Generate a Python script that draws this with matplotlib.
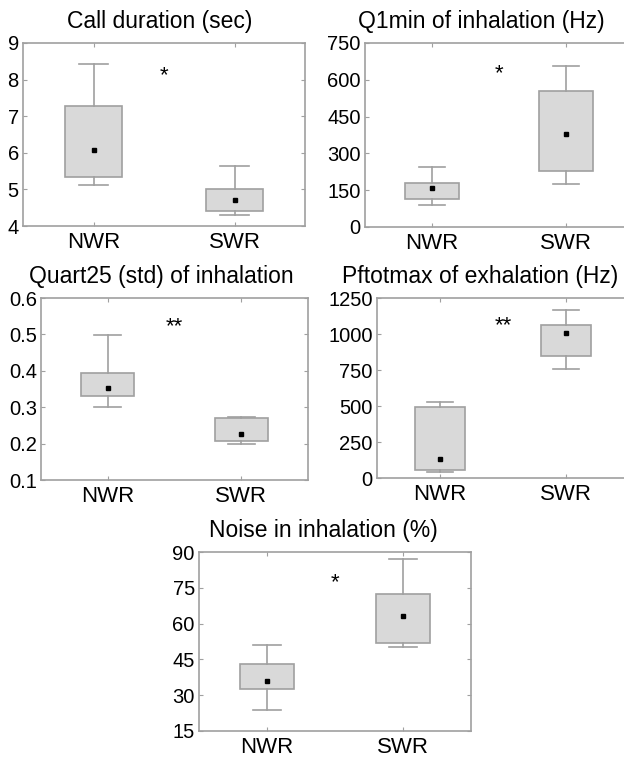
import matplotlib
matplotlib.use('Agg')
import matplotlib.pyplot as plt

plt.rcParams['font.family'] = ['Liberation Sans', 'DejaVu Sans']

groups = ['NWR', 'SWR']

titles = ['Call duration (sec)', 'Q1min of inhalation (Hz)', 'Quart25 (std) of inhalation',
          'Pftotmax of exhalation (Hz)', 'Noise in inhalation (%)']

# whisker low, q1, q3, whisker high, mean  -- per group [NWR, SWR]
whislo = [[5.12, 4.30], [90, 175], [0.300, 0.200], [45, 760], [24, 50]]
q1 = [[5.35, 4.40], [115, 228], [0.330, 0.207], [55, 845], [32.5, 52]]
q3 = [[7.28, 5.00], [180, 555], [0.395, 0.270], [490, 1065], [43, 72.5]]
whishi = [[8.43, 5.65], [245, 655], [0.498, 0.272], [530, 1170], [51, 87]]
means = [[6.07, 4.72], [158, 378], [0.353, 0.226], [135, 1005], [36, 63]]

# significance marks
stars = ['*', '*', '**', '**', '*']
star_y = [8.1, 625, 0.52, 1060, 77]

ylims = [(4, 9), (0, 750), (0.1, 0.6), (0, 1250), (15, 90)]
yticks = [[4, 5, 6, 7, 8, 9], [0, 150, 300, 450, 600, 750],
          [0.1, 0.2, 0.3, 0.4, 0.5, 0.6], [0, 250, 500, 750, 1000, 1250],
          [15, 30, 45, 60, 75, 90]]
yticklabels = [['4', '5', '6', '7', '8', '9'], ['0', '150', '300', '450', '600', '750'],
               ['0.1', '0.2', '0.3', '0.4', '0.5', '0.6'],
               ['0', '250', '500', '750', '1000', '1250'],
               ['15', '30', '45', '60', '75', '90']]

W, H = 624, 759
# panel boxes in pixels: left, top, right, bottom
boxes_px = [(23, 43, 305, 226), (365, 43, 633, 227), (41, 298, 308, 480),
            (377, 298, 629, 478), (199, 552, 471, 731)]
# title centres in pixels
title_x_px = [160, 481, 161, 480, 323]

edge = '#a0a0a0'
fill = '#d9d9d9'

fig = plt.figure(figsize=(W / 100, H / 100), dpi=100)

for i in range(5):
    l, t, r, b = boxes_px[i]
    ax = fig.add_axes([l / W, 1 - b / H, (r - l) / W, (b - t) / H])
    stats = []
    for g in range(2):
        stats.append({'whislo': whislo[i][g], 'q1': q1[i][g], 'med': q1[i][g],
                      'q3': q3[i][g], 'whishi': whishi[i][g], 'mean': means[i][g],
                      'fliers': [], 'label': groups[g]})
    ax.bxp(stats, positions=[1, 2], widths=0.4, patch_artist=True, showmeans=True,
           showfliers=False,
           boxprops=dict(facecolor=fill, edgecolor=edge, linewidth=1.2),
           whiskerprops=dict(color=edge, linewidth=1.2),
           capprops=dict(color=edge, linewidth=1.2),
           medianprops=dict(visible=False),
           meanprops=dict(marker='s', markerfacecolor='black', markeredgecolor='black',
                          markersize=2.2))
    ax.text(1.5, star_y[i], stars[i], ha='center', va='center', fontsize=16)
    ax.set_xlim(0.5, 2.5)
    ax.set_ylim(*ylims[i])
    ax.set_yticks(yticks[i])
    ax.set_yticklabels(yticklabels[i])
    ax.set_xticks([1, 2])
    ax.set_xticklabels(groups)
    ax.tick_params(axis='both', direction='in', length=3, color=edge,
                   top=True, right=True, pad=3)
    ax.tick_params(axis='y', labelsize=14.5)
    ax.tick_params(axis='x', labelsize=16, pad=4)
    for s in ax.spines.values():
        s.set_color(edge)
        s.set_linewidth(1.2)
    ax.set_title(titles[i], fontsize=16.5, pad=11,
                 x=(title_x_px[i] - l) / (r - l))

fig.savefig('out.png', dpi=100)
